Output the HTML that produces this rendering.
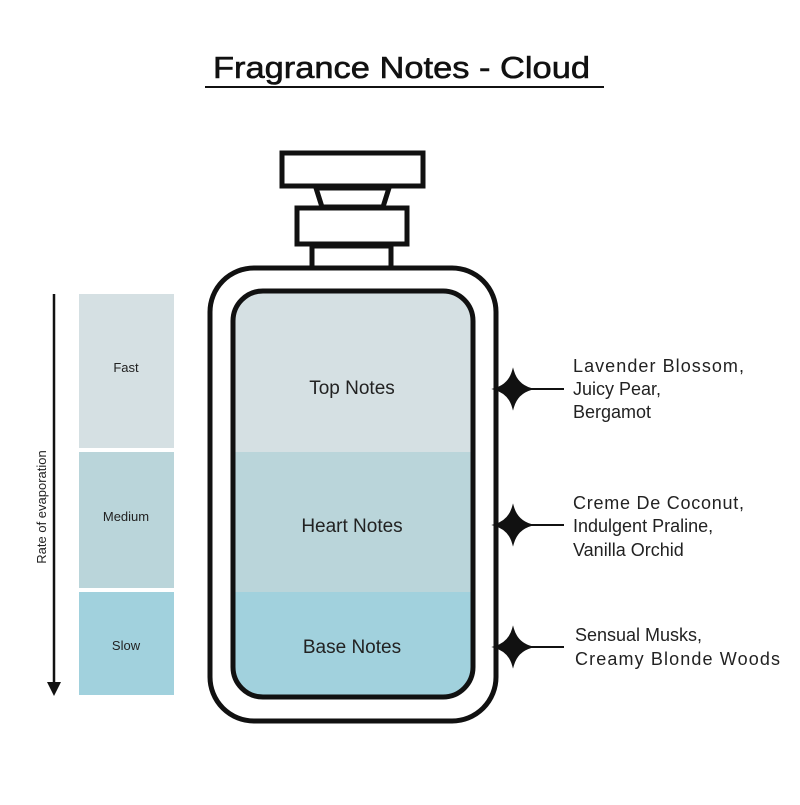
<!DOCTYPE html>
<html><head><style>body{margin:0;background:#fff}</style></head><body>
<svg width="800" height="800" viewBox="0 0 800 800" xmlns="http://www.w3.org/2000/svg" font-family="Liberation Sans, sans-serif">
<rect width="800" height="800" fill="#fff"/>
<text x="213" y="78" font-size="31" textLength="377" lengthAdjust="spacingAndGlyphs" fill="#111" stroke="#111" stroke-width="0.6">Fragrance Notes - Cloud</text>
<line x1="205" y1="87" x2="604" y2="87" stroke="#111" stroke-width="2"/>
<!-- left scale -->
<rect x="79" y="294" width="95" height="154" fill="#d5e0e3"/>
<rect x="79" y="452" width="95" height="136" fill="#bad5da"/>
<rect x="79" y="592" width="95" height="103" fill="#a1d1dd"/>
<text x="126" y="372" font-size="13" text-anchor="middle" fill="#222">Fast</text>
<text x="126" y="521" font-size="13" text-anchor="middle" fill="#222">Medium</text>
<text x="126" y="650" font-size="13" text-anchor="middle" fill="#222">Slow</text>
<line x1="54" y1="294" x2="54" y2="684" stroke="#111" stroke-width="2.5"/>
<polygon points="47,682 61,682 54,696" fill="#111"/>
<text transform="translate(46,507) rotate(-90)" font-size="13" text-anchor="middle" fill="#222">Rate of evaporation</text>
<!-- bottle -->
<rect x="282" y="153" width="141" height="33" fill="#fff" stroke="#111" stroke-width="5"/>
<polygon points="316,188 389,188 383,207 322,207" fill="#fff" stroke="#111" stroke-width="5"/>
<rect x="297" y="208" width="110" height="36" fill="#fff" stroke="#111" stroke-width="5"/>
<rect x="312" y="246" width="79" height="22" fill="#fff" stroke="#111" stroke-width="5"/>
<rect x="210" y="268" width="286" height="453" rx="44" fill="#fff" stroke="#111" stroke-width="5"/>
<clipPath id="c"><rect x="233" y="291" width="240" height="406" rx="30"/></clipPath>
<g clip-path="url(#c)">
<rect x="233" y="291" width="240" height="161" fill="#d5e0e3"/>
<rect x="233" y="452" width="240" height="140" fill="#bad5da"/>
<rect x="233" y="592" width="240" height="105" fill="#a1d1dd"/>
</g>
<rect x="233" y="291" width="240" height="406" rx="30" fill="none" stroke="#111" stroke-width="5"/>
<text x="352" y="394" font-size="19" text-anchor="middle" fill="#222">Top Notes</text>
<text x="352" y="532" font-size="19" text-anchor="middle" fill="#222">Heart Notes</text>
<text x="352" y="653" font-size="19" text-anchor="middle" fill="#222">Base Notes</text>
<!-- stars -->
<g fill="#111" stroke="#111" stroke-width="2">
<path d="M513,371 Q517,385 531,389 Q517,393 513,407 Q509,393 495,389 Q509,385 513,371Z"/>
<line x1="525" y1="389" x2="564" y2="389"/>
<path d="M513,507 Q517,521 531,525 Q517,529 513,543 Q509,529 495,525 Q509,521 513,507Z"/>
<line x1="525" y1="525" x2="564" y2="525"/>
<path d="M513,629 Q517,643 531,647 Q517,651 513,665 Q509,651 495,647 Q509,643 513,629Z"/>
<line x1="525" y1="647" x2="564" y2="647"/>
</g>
<g font-size="18" fill="#222">
<text x="573" y="372" textLength="171">Lavender Blossom,</text>
<text x="573" y="395">Juicy Pear,</text>
<text x="573" y="418">Bergamot</text>
<text x="573" y="509" textLength="171">Creme De Coconut,</text>
<text x="573" y="532">Indulgent Praline,</text>
<text x="573" y="556">Vanilla Orchid</text>
<text x="575" y="641">Sensual Musks,</text>
<text x="575" y="665" textLength="205">Creamy Blonde Woods</text>
</g>
</svg>
</body></html>
